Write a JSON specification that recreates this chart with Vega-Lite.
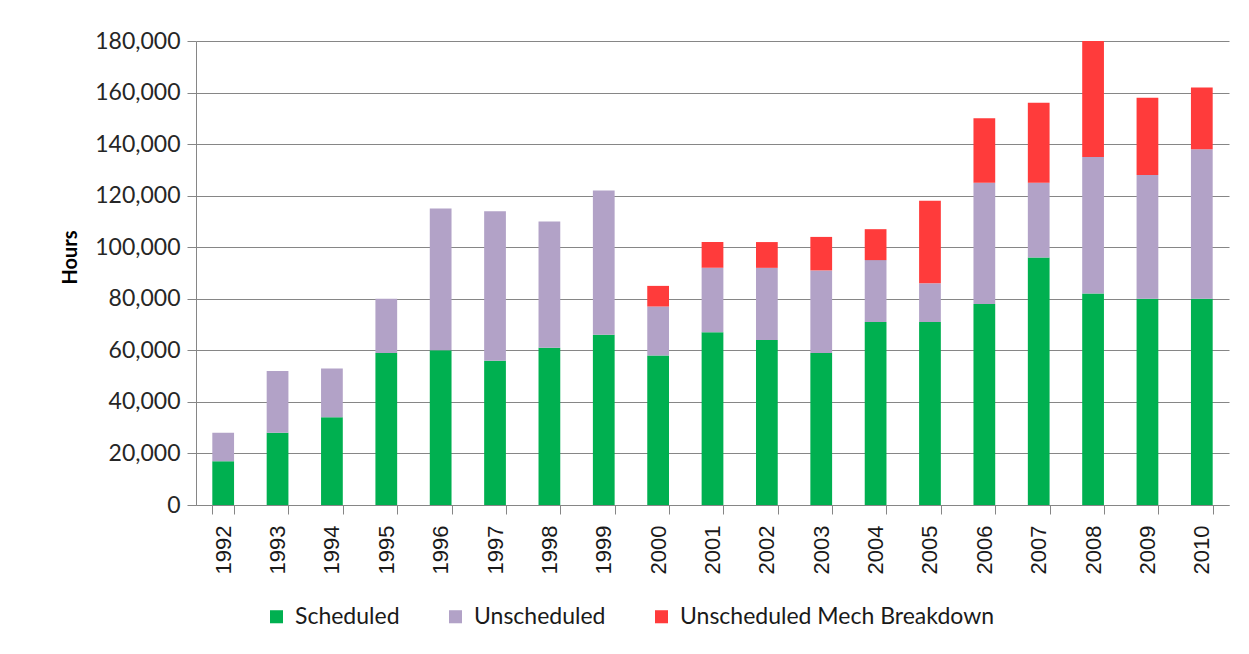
{
  "$schema": "https://vega.github.io/schema/vega-lite/v6.json",
  "autosize": {"type": "none"},
  "padding": {"left": 196, "top": 41, "right": 20, "bottom": 149},
  "width": 1033,
  "height": 464,
  "background": "white",
  "data": {
    "values": [
      {"year": "1992", "type": "Scheduled", "k": 1, "hours": 17000},
      {"year": "1992", "type": "Unscheduled", "k": 2, "hours": 11000},
      {"year": "1993", "type": "Scheduled", "k": 1, "hours": 28000},
      {"year": "1993", "type": "Unscheduled", "k": 2, "hours": 24000},
      {"year": "1994", "type": "Scheduled", "k": 1, "hours": 34000},
      {"year": "1994", "type": "Unscheduled", "k": 2, "hours": 19000},
      {"year": "1995", "type": "Scheduled", "k": 1, "hours": 59000},
      {"year": "1995", "type": "Unscheduled", "k": 2, "hours": 21000},
      {"year": "1996", "type": "Scheduled", "k": 1, "hours": 60000},
      {"year": "1996", "type": "Unscheduled", "k": 2, "hours": 55000},
      {"year": "1997", "type": "Scheduled", "k": 1, "hours": 56000},
      {"year": "1997", "type": "Unscheduled", "k": 2, "hours": 58000},
      {"year": "1998", "type": "Scheduled", "k": 1, "hours": 61000},
      {"year": "1998", "type": "Unscheduled", "k": 2, "hours": 49000},
      {"year": "1999", "type": "Scheduled", "k": 1, "hours": 66000},
      {"year": "1999", "type": "Unscheduled", "k": 2, "hours": 56000},
      {"year": "2000", "type": "Scheduled", "k": 1, "hours": 58000},
      {"year": "2000", "type": "Unscheduled", "k": 2, "hours": 19000},
      {"year": "2000", "type": "Unscheduled Mech Breakdown", "k": 3, "hours": 8000},
      {"year": "2001", "type": "Scheduled", "k": 1, "hours": 67000},
      {"year": "2001", "type": "Unscheduled", "k": 2, "hours": 25000},
      {"year": "2001", "type": "Unscheduled Mech Breakdown", "k": 3, "hours": 10000},
      {"year": "2002", "type": "Scheduled", "k": 1, "hours": 64000},
      {"year": "2002", "type": "Unscheduled", "k": 2, "hours": 28000},
      {"year": "2002", "type": "Unscheduled Mech Breakdown", "k": 3, "hours": 10000},
      {"year": "2003", "type": "Scheduled", "k": 1, "hours": 59000},
      {"year": "2003", "type": "Unscheduled", "k": 2, "hours": 32000},
      {"year": "2003", "type": "Unscheduled Mech Breakdown", "k": 3, "hours": 13000},
      {"year": "2004", "type": "Scheduled", "k": 1, "hours": 71000},
      {"year": "2004", "type": "Unscheduled", "k": 2, "hours": 24000},
      {"year": "2004", "type": "Unscheduled Mech Breakdown", "k": 3, "hours": 12000},
      {"year": "2005", "type": "Scheduled", "k": 1, "hours": 71000},
      {"year": "2005", "type": "Unscheduled", "k": 2, "hours": 15000},
      {"year": "2005", "type": "Unscheduled Mech Breakdown", "k": 3, "hours": 32000},
      {"year": "2006", "type": "Scheduled", "k": 1, "hours": 78000},
      {"year": "2006", "type": "Unscheduled", "k": 2, "hours": 47000},
      {"year": "2006", "type": "Unscheduled Mech Breakdown", "k": 3, "hours": 25000},
      {"year": "2007", "type": "Scheduled", "k": 1, "hours": 96000},
      {"year": "2007", "type": "Unscheduled", "k": 2, "hours": 29000},
      {"year": "2007", "type": "Unscheduled Mech Breakdown", "k": 3, "hours": 31000},
      {"year": "2008", "type": "Scheduled", "k": 1, "hours": 82000},
      {"year": "2008", "type": "Unscheduled", "k": 2, "hours": 53000},
      {"year": "2008", "type": "Unscheduled Mech Breakdown", "k": 3, "hours": 45000},
      {"year": "2009", "type": "Scheduled", "k": 1, "hours": 80000},
      {"year": "2009", "type": "Unscheduled", "k": 2, "hours": 48000},
      {"year": "2009", "type": "Unscheduled Mech Breakdown", "k": 3, "hours": 30000},
      {"year": "2010", "type": "Scheduled", "k": 1, "hours": 80000},
      {"year": "2010", "type": "Unscheduled", "k": 2, "hours": 58000},
      {"year": "2010", "type": "Unscheduled Mech Breakdown", "k": 3, "hours": 24000}
    ]
  },
  "mark": {"type": "bar"},
  "encoding": {
    "x": {
      "field": "year",
      "type": "ordinal",
      "scale": {"paddingInner": 0.6, "paddingOuter": 0.3},
      "axis": {
        "title": null,
        "labelAngle": -90,
        "labelAlign": "right",
        "labelBaseline": "middle",
        "labelFont": "Liberation Sans",
        "labelFontSize": 22,
        "labelColor": "#1a1a1a",
        "labelPadding": 11,
        "tickBand": "extent",
        "tickSize": 9,
        "tickColor": "#868686",
        "domainColor": "#868686",
        "grid": false
      }
    },
    "y": {
      "field": "hours",
      "type": "quantitative",
      "stack": "zero",
      "scale": {"domain": [0, 180000], "nice": false},
      "axis": {
        "title": "Hours",
        "titleFont": "Lato",
        "titleFontSize": 20,
        "titleFontWeight": "bold",
        "titleColor": "#000000",
        "titlePadding": 14,
        "titleY": 216,
        "values": [0, 20000, 40000, 60000, 80000, 100000, 120000, 140000, 160000, 180000],
        "format": ",d",
        "labelFont": "Lato",
        "labelFontSize": 23,
        "labelColor": "#262626",
        "labelPadding": 7,
        "tickSize": 9,
        "tickColor": "#868686",
        "domainColor": "#868686",
        "grid": true,
        "gridColor": "#868686",
        "gridWidth": 1
      }
    },
    "color": {
      "field": "type",
      "type": "nominal",
      "scale": {
        "domain": ["Scheduled", "Unscheduled", "Unscheduled Mech Breakdown"],
        "range": ["#00b050", "#b2a2c7", "#ff3b3b"]
      },
      "legend": {
        "title": null,
        "orient": "none",
        "direction": "horizontal",
        "legendX": 69,
        "legendY": 564,
        "symbolType": "square",
        "symbolSize": 170,
        "symbolStrokeWidth": 0,
        "labelFont": "Lato",
        "labelFontSize": 23,
        "labelColor": "#1a1a1a",
        "labelOffset": 7,
        "labelLimit": 0,
        "columnPadding": 44
      }
    },
    "order": {"field": "k", "type": "quantitative"}
  },
  "config": {
    "view": {"stroke": null}
  }
}
